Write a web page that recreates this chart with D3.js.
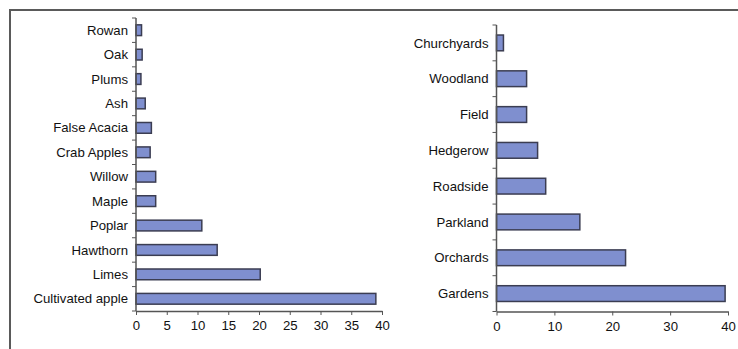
<!DOCTYPE html>
<html><head><meta charset="utf-8">
<script src="https://cdn.jsdelivr.net/npm/d3@7"></script>
<style>body{margin:0;background:#fff}svg{display:block}text{font-family:"Liberation Sans",Arial,sans-serif}</style>
</head><body><svg id="c" width="738" height="349"></svg>
<script>
const treeCategories = ["Rowan","Oak","Plums","Ash","False Acacia","Crab Apples","Willow","Maple","Poplar","Hawthorn","Limes","Cultivated apple"];
const treeValues = [0.9,1.0,0.8,1.5,2.5,2.3,3.2,3.2,10.7,13.2,20.2,39.0];
const treeTicks = [0,5,10,15,20,25,30,35,40];
const habitatCategories = ["Churchyards","Woodland","Field","Hedgerow","Roadside","Parkland","Orchards","Gardens"];
const habitatValues = [1.2,5.2,5.2,7.1,8.5,14.4,22.3,39.5];
const habitatTicks = [0,10,20,30,40];

const svg = d3.select("#c");
// frame
svg.append("line").attr("x1",9).attr("x2",738).attr("y1",10).attr("y2",10).attr("stroke","#5a5a5a").attr("stroke-width",2);
svg.append("line").attr("x1",10).attr("x2",10).attr("y1",9).attr("y2",349).attr("stroke","#5a5a5a").attr("stroke-width",2);

function drawChart(cats, vals, ticks, x0, x1, y0, y1, pad, labelY){
  const x = d3.scaleLinear().domain([0,40]).range([x0,x1]);
  const y = d3.scaleBand().domain(cats).range([y0,y1]).paddingInner(pad).paddingOuter(pad/2);
  const g = svg.append("g");
  g.selectAll("rect.bar").data(cats).join("rect").attr("class","bar")
    .attr("x",x(0)).attr("y",d=>y(d)).attr("height",y.bandwidth())
    .attr("width",(d,i)=>x(vals[i])-x(0))
    .attr("fill","#7f8fcf").attr("stroke","#3b3d52").attr("stroke-width",1.5);
  g.append("line").attr("x1",x0).attr("x2",x0).attr("y1",y0).attr("y2",y1).attr("stroke","#555").attr("stroke-width",1.5);
  const step = (y1-y0)/cats.length;
  g.selectAll("line.yt").data(d3.range(cats.length+1)).join("line").attr("class","yt")
    .attr("x1",x0-4).attr("x2",x0).attr("y1",i=>y0+i*step).attr("y2",i=>y0+i*step).attr("stroke","#555");
  g.selectAll("text.yl").data(cats).join("text").attr("class","yl")
    .attr("x",x0-8).attr("y",d=>y(d)+y.bandwidth()/2).attr("dy","0.35em")
    .attr("text-anchor","end").attr("font-size",13.2).attr("fill","#111").text(d=>d);
  const ax = g.append("g").attr("transform",`translate(0,${y1})`)
    .call(d3.axisBottom(x).tickValues(ticks).tickSize(4).tickSizeOuter(0));
  ax.select(".domain").attr("stroke","#555").attr("stroke-width",1.5);
  ax.selectAll(".tick line").attr("stroke","#555");
  ax.selectAll(".tick text").attr("font-size",13.2).attr("fill","#111")
    .attr("font-family","Liberation Sans, Arial, sans-serif").attr("y",labelY-y1).attr("dy","0.35em");
}
drawChart(treeCategories, treeValues, treeTicks, 136, 382, 18, 311, 0.56, 325);
drawChart(habitatCategories, habitatValues, habitatTicks, 496.5, 728, 25, 311.5, 0.56, 326);
</script></body></html>
